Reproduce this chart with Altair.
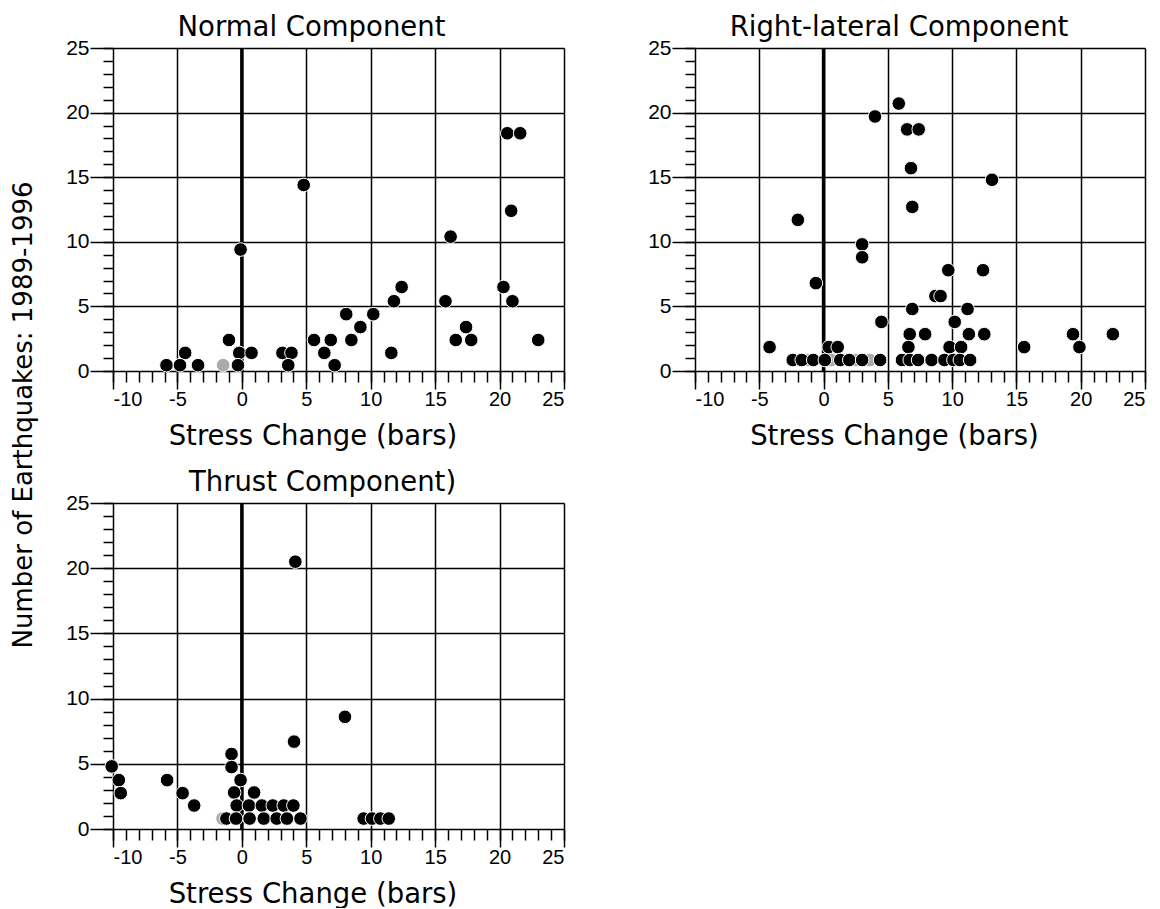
import altair as alt
import pandas as pd

# ---------------- data ----------------
# Normal Component
normal_x = [20.6, 21.6, 4.8, 20.9, 16.2, -0.1, 12.4, 20.3, 11.8, 15.8, 21.0, 8.1, 10.2, 9.2, 17.4,
            -1.0, 5.6, 6.9, 8.5, 16.6, 17.8, 23.0,
            -4.4, -0.2, 0.75, 3.15, 3.85, 6.4, 11.6,
            -5.85, -4.8, -3.4, -0.3, 3.6, 7.2]
normal_y = [18.4, 18.4, 14.4, 12.4, 10.4, 9.4, 6.5, 6.5, 5.4, 5.4, 5.4, 4.4, 4.4, 3.4, 3.4,
            2.4, 2.4, 2.4, 2.4, 2.4, 2.4, 2.4,
            1.4, 1.4, 1.4, 1.4, 1.4, 1.4, 1.4,
            0.45, 0.45, 0.45, 0.45, 0.45, 0.45]
normal_gray_x = [-1.45]
normal_gray_y = [0.45]

# Right-lateral Component
right_x = [5.85, 4.0, 6.5, 7.4, 6.8, 13.1, 6.9, -2.0, 3.0, 3.0, 9.7, 12.4, -0.6, 8.7, 9.1, 6.9, 11.2, 4.5, 10.2,
           6.7, 7.9, 11.3, 12.5, 19.4, 22.5,
           -4.2, 0.4, 1.1, 6.6, 9.8, 10.7, 15.6, 19.9,
           -2.4, -1.7, -0.8, 0.1, 1.3, 2.0, 3.0, 4.4, 6.1, 6.7, 7.35, 8.4, 9.4, 10.1, 10.6, 11.4]
right_y = [20.7, 19.7, 18.7, 18.7, 15.7, 14.8, 12.7, 11.7, 9.8, 8.8, 7.8, 7.8, 6.8, 5.8, 5.8, 4.8, 4.8, 3.8, 3.8,
           2.85, 2.85, 2.85, 2.85, 2.85, 2.85,
           1.85, 1.85, 1.85, 1.85, 1.85, 1.85, 1.85, 1.85,
           0.85, 0.85, 0.85, 0.85, 0.85, 0.85, 0.85, 0.85, 0.85, 0.85, 0.85, 0.85, 0.85, 0.85, 0.85, 0.85]
right_gray_x = [-2.0, -1.2, 0.6, 1.7, 2.5, 3.6]
right_gray_y = [0.85, 0.85, 0.85, 0.85, 0.85, 0.85]

# Thrust Component
thrust_x = [4.15, 8.0, 4.05, -0.8, -0.8, -10.1, -9.55, -5.8, -0.1, -9.4, -4.6, -0.6, 0.95,
            -3.7, -0.4, 0.55, 1.55, 2.4, 3.25, 4.0,
            -1.2, -0.45, 0.6, 1.7, 2.7, 3.5, 4.55, 9.45, 10.1, 10.75, 11.4]
thrust_y = [20.5, 8.6, 6.7, 5.75, 4.75, 4.8, 3.75, 3.75, 3.75, 2.75, 2.75, 2.8, 2.8,
            1.8, 1.8, 1.8, 1.8, 1.8, 1.8, 1.8,
            0.8, 0.8, 0.8, 0.8, 0.8, 0.8, 0.8, 0.8, 0.8, 0.8, 0.8]
thrust_gray_x = [-1.5]
thrust_gray_y = [0.8]

x_major = [-10, -5, 0, 5, 10, 15, 20, 25]
y_major = [0, 5, 10, 15, 20, 25]
x_minor = list(range(-10, 26))
y_minor = list(range(0, 26))
zero_line = [0]

titles = ["Normal Component", "Right-lateral Component", "Thrust Component)"]
x_title = "Stress Change (bars)"
y_title = "Number of Earthquakes: 1989-1996"

TXT = "DejaVu Sans"
NUM = "'Liberation Sans Narrow', 'Liberation Sans', Arial"
HYPHEN = "datum.value < 0 ? '-' + abs(datum.value) : datum.label"


def panel(xs, ys, gx, gy, title, tdx, w, h, with_ytitle=False):
    sx = alt.Scale(domain=[-10, 25], nice=False, zero=False)
    sy = alt.Scale(domain=[0, 25], nice=False, zero=False)
    black = pd.DataFrame({"x": xs, "y": ys})
    gray = pd.DataFrame({"x": gx, "y": gy})

    major_x = alt.Axis(orient="bottom", values=x_major, tickSize=18, tickWidth=1.5, tickColor="black",
                       labelPadding=0, labelFont=NUM, labelFontSize=20, labelColor="black",
                       labelExpr=HYPHEN,
                       grid=True, gridColor="black", gridWidth=1.5, gridOpacity=1,
                       domain=False, title=x_title, titleFont=TXT, titleFontSize=27.5,
                       titleFontWeight="normal", titleColor="black", titlePadding=13,
                       titleX=w / 2 - 26, titleAlign="center")
    minor_x = alt.Axis(orient="bottom", values=x_minor, tickSize=11, tickWidth=1.5, tickColor="black",
                       labels=False, grid=False, domain=False, title=None)
    major_y = alt.Axis(orient="left", values=y_major, tickSize=23, tickWidth=1.5, tickColor="black",
                       labelPadding=1, labelFont=NUM, labelFontSize=21, labelColor="black",
                       grid=True, gridColor="black", gridWidth=1.5, gridOpacity=1,
                       domain=False, title=None)
    minor_y = alt.Axis(orient="left", values=y_minor, tickSize=10, tickWidth=1.5, tickColor="black",
                       labels=False, grid=False, domain=False, title=None)

    g = alt.Chart(gray).mark_point(filled=True, shape="circle", size=185, color="#aaaaaa",
                                    opacity=1, stroke="white", strokeWidth=1).encode(
        x=alt.X("x:Q", scale=sx, axis=minor_x),
        y=alt.Y("y:Q", scale=sy, axis=minor_y),
    )
    z = alt.Chart(pd.DataFrame({"z": zero_line})).mark_rule(color="black", strokeWidth=3.5).encode(
        x=alt.X("z:Q", scale=sx, axis=None)
    )
    b = alt.Chart(black).mark_point(filled=True, shape="circle", size=185, color="black",
                                     opacity=1, stroke="white", strokeWidth=1, strokeOpacity=1).encode(
        x=alt.X("x:Q", scale=sx, axis=major_x),
        y=alt.Y("y:Q", scale=sy, axis=major_y),
    )
    tt = alt.Chart(pd.DataFrame({"t": [title]})).mark_text(
        font=TXT, fontSize=27.5, color="black", align="center", baseline="alphabetic"
    ).encode(x=alt.value(w / 2 + tdx), y=alt.value(-12), text="t:N")
    layers = [g, z, b, tt]
    if with_ytitle:
        t = alt.Chart(pd.DataFrame({"t": [y_title]})).mark_text(
            angle=270, font=TXT, fontSize=26, color="black", align="center", baseline="middle"
        ).encode(x=alt.value(-89), y=alt.value(-88), text="t:N")
        layers.append(t)
    ch = alt.layer(*layers).resolve_axis(x="independent", y="independent").properties(
        width=w, height=h,
    )
    return ch


p1 = panel(normal_x, normal_y, normal_gray_x, normal_gray_y, titles[0], -27, 451, 323)
p2 = panel(right_x, right_y, right_gray_x, right_gray_y, titles[1], -21, 450, 323)
p3 = panel(thrust_x, thrust_y, thrust_gray_x, thrust_gray_y, titles[2], -16, 451, 326,
           with_ytitle=True)

chart = alt.concat(p1, p2, p3, columns=2, spacing={"row": 132, "column": 131}, bounds="flush").properties(
    padding={"left": 2, "top": 5, "right": 0, "bottom": 0}
).configure_view(stroke="black", strokeWidth=2).configure(background="white")

chart.save("out.html", embed_options={"renderer": "svg", "actions": False})
